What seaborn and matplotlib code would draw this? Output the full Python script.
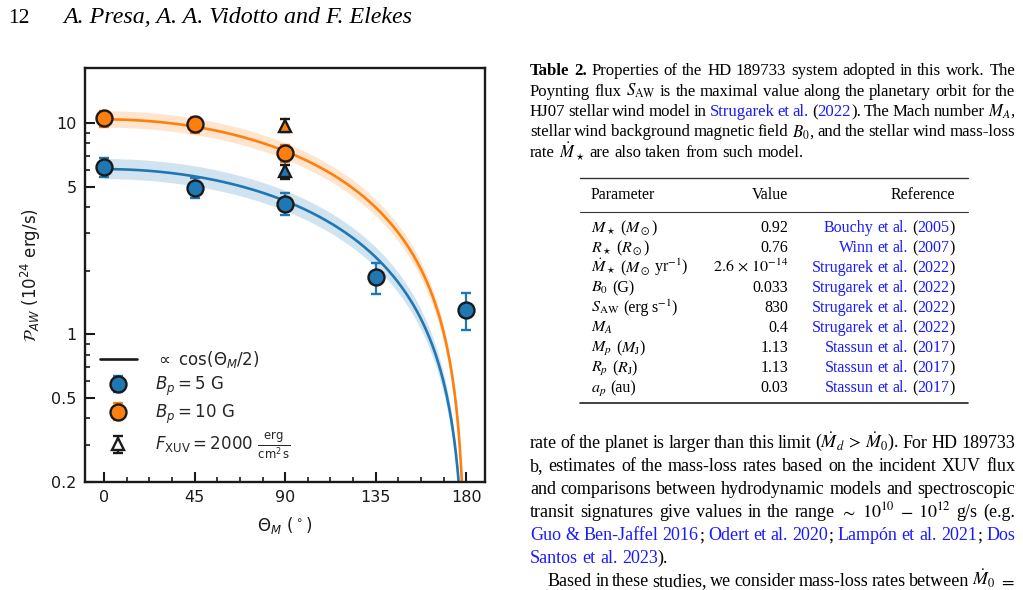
import numpy as np
import pandas as pd
import matplotlib
matplotlib.use("Agg")
import matplotlib.pyplot as plt
import seaborn as sns
from matplotlib.transforms import IdentityTransform
from matplotlib.lines import Line2D
from matplotlib.ticker import FixedLocator, NullFormatter, MultipleLocator, LogLocator

# ---------------- chart data ----------------
theta_bp5 = [0, 45, 90, 135, 180]
p_bp5 = [6.18, 4.93, 4.14, 1.86, 1.30]
p_bp5_lo = [5.54, 4.41, 3.65, 1.55, 1.05]
p_bp5_hi = [6.82, 5.48, 4.65, 2.17, 1.56]

theta_bp10 = [0, 45, 90]
p_bp10 = [10.5, 9.86, 7.2]
p_bp10_lo = [9.58, 9.0, 6.53]
p_bp10_hi = [11.4, 10.7, 7.9]

theta_xuv = [90]
p_xuv5 = [5.9]
p_xuv5_lo = [5.45]
p_xuv5_hi = [6.35]
p_xuv10 = [9.65]
p_xuv10_lo = [9.1]
p_xuv10_hi = [10.4]

fit_series = ["Bp5", "Bp10"]
fit_amp = [6.05, 10.4]
fit_amp_lo = [5.42, 9.5]
fit_amp_hi = [6.75, 11.35]

y_ticks = [0.2, 0.5, 1, 5, 10]
y_ticklabels = ["0.2", "0.5", "1", "5", "10"]
x_ticks = [0, 45, 90, 135, 180]

C_BLUE = "#1f77b4"
C_ORANGE = "#ff7f0e"
colors = [C_BLUE, C_ORANGE]

# ---------------- page text ----------------
heading_num = "12"
heading_auth = "A. Presa, A. A. Vidotto and F. Elekes"

caption_lines = [
    "*Table *2. Properties of the HD 189733 system adopted in this work. The",
    "Poynting flux $S_\\mathrm{AW}$ is the maximal value along the planetary orbit for the",
    "HJ07 stellar wind model in @Strugarek @et @al. (|@2022|). The Mach number $\\boldsymbol{M_A}$,",
    "stellar wind background magnetic field $\\boldsymbol{B_0}$, and the stellar wind mass-loss",
    "rate $\\dot{M}_\\star$ are also taken from such model.",
]

table_header = ["Parameter", "Value", "Reference"]
table_param = [
    "$\\boldsymbol{M_\\star}$ ($M_\\odot$)",
    "$\\boldsymbol{R_\\star}$ ($R_\\odot$)",
    "$\\boldsymbol{\\dot{M}_\\star}$ ($M_\\odot$ yr$^{-1}$)",
    "$\\boldsymbol{B_0}$ (G)",
    "$S_\\mathrm{AW}$ (erg|$\\,$|s$^{-1}$)",
    "$\\boldsymbol{M_A}$",
    "$\\boldsymbol{M_p}$ ($M_\\mathrm{J}$)",
    "$\\boldsymbol{R_p}$ ($R_\\mathrm{J}$)",
    "$\\boldsymbol{a_p}$ (au)",
]
table_value = ["0.92", "0.76", "$2.6\\,\\times\\,10^{-14}$", "0.033", "830", "0.4", "1.13", "1.13", "0.03"]
table_ref = [
    "@Bouchy @et @al. (|@2005|)",
    "@Winn @et @al. (|@2007|)",
    "@Strugarek @et @al. (|@2022|)",
    "@Strugarek @et @al. (|@2022|)",
    "@Strugarek @et @al. (|@2022|)",
    "@Strugarek @et @al. (|@2022|)",
    "@Stassun @et @al. (|@2017|)",
    "@Stassun @et @al. (|@2017|)",
    "@Stassun @et @al. (|@2017|)",
]

body_lines = [
    "rate of the planet is larger than this limit ($\\dot{M}_d\\,>\\,\\dot{M}_0$). For HD 189733",
    "b, estimates of the mass-loss rates based on the incident XUV flux",
    "and comparisons between hydrodynamic models and spectroscopic",
    "transit signatures give values in the range $\\sim$ $10^{10}$ $-$ $10^{12}$ g/s (e.g.",
    "@Guo @& @Ben-Jaffel @2016|; @Odert @et @al. @2020|; @Lampón @et @al. @2021|; @Dos",
    "@Santos @et @al. @2023|).",
    "Based in these studies, we consider mass-loss rates between $\\dot{M}_0$ $=$",
]

# ---------------- figure ----------------
sns.set_theme(style="ticks")
plt.rcParams["font.family"] = ["DejaVu Sans"]
plt.rcParams["mathtext.fontset"] = "dejavusans"

W, H = 1023, 590
fig = plt.figure(figsize=(W / 100, H / 100), dpi=100)
fig.patch.set_facecolor("white")
ax = fig.add_axes([85 / W, 1 - 482 / H, 400 / W, 414 / H])
ax.set_facecolor("white")

theta = np.linspace(0, 179.95, 1200)
rows = []
for name, amp in zip(fit_series, fit_amp):
    for t in theta:
        rows.append({"theta": t, "P": amp * np.cos(np.radians(t) / 2), "series": name})
df_fit = pd.DataFrame(rows)

for amp_lo, amp_hi, col in zip(fit_amp_lo, fit_amp_hi, colors):
    ax.fill_between(theta, amp_lo * np.cos(np.radians(theta) / 2),
                    amp_hi * np.cos(np.radians(theta) / 2),
                    color=col, alpha=0.2, lw=0, zorder=1)
sns.lineplot(data=df_fit, x="theta", y="P", hue="series", palette=colors,
             linewidth=1.9, legend=False, ax=ax, zorder=2, estimator=None)

def yerr(v, lo, hi):
    v = np.asarray(v); return [v - np.asarray(lo), np.asarray(hi) - v]

eb_kw = dict(ms=11.5, mew=1.7, mec="k", elinewidth=1.6, capsize=3.5, capthick=1.6)
eb5 = ax.errorbar(theta_bp5, p_bp5, yerr=yerr(p_bp5, p_bp5_lo, p_bp5_hi), fmt="o",
                  mfc=C_BLUE, ecolor=C_BLUE, zorder=5, **eb_kw)
eb10 = ax.errorbar(theta_bp10, p_bp10, yerr=yerr(p_bp10, p_bp10_lo, p_bp10_hi), fmt="o",
                   mfc=C_ORANGE, ecolor=C_ORANGE, zorder=5, **eb_kw)
tri_kw = dict(ms=9, mew=1.7, mec="k", ecolor="k", elinewidth=1.6, capsize=3.5, capthick=1.6)
ax.errorbar(theta_xuv, p_xuv5, yerr=yerr(p_xuv5, p_xuv5_lo, p_xuv5_hi), fmt="^",
            mfc=C_BLUE, zorder=6, **tri_kw)
ax.errorbar(theta_xuv, p_xuv10, yerr=yerr(p_xuv10, p_xuv10_lo, p_xuv10_hi), fmt="^",
            mfc=C_ORANGE, zorder=6, **tri_kw)
eb_tri = ax.errorbar([np.nan], [np.nan], yerr=[[1], [1]], fmt="^", mfc="white", **tri_kw)
line_proxy = Line2D([], [], color="k", lw=1.9)

ax.set_yscale("log")
ax.set_ylim(0.2, 18.2)
ax.set_xlim(-9.5, 189.3)
ax.yaxis.set_major_locator(FixedLocator(y_ticks))
ax.set_yticklabels(y_ticklabels)
ax.yaxis.set_minor_locator(LogLocator(base=10, subs=np.arange(2, 10)))
ax.yaxis.set_minor_formatter(NullFormatter())
ax.set_xticks(x_ticks)
ax.xaxis.set_minor_locator(MultipleLocator(11.25))
ax.tick_params(which="both", direction="in", top=False, right=False, colors="k")
ax.tick_params(which="major", length=7.5, width=1.5, labelsize=11.5, pad=6)
ax.tick_params(which="minor", length=3.8, width=1.2)
for s in ax.spines.values():
    s.set_visible(True)
    s.set_linewidth(1.7)
    s.set_color("k")
ax.grid(False)

ax.set_xlabel(r"$\Theta_M$ ($^\circ$)", fontsize=12, labelpad=7, color="k")
ax.set_ylabel(r"$\mathcal{P}_{AW}$ (10$^{24}$ erg/s)", fontsize=12, labelpad=6, color="k")

leg = ax.legend([line_proxy, eb5, eb10, eb_tri],
                [r"$\propto$ cos($\Theta_M$/2)", r"$B_p = 5$ G", r"$B_p = 10$ G",
                 r"$F_\mathrm{XUV} = 2000\ \frac{\mathrm{erg}}{\mathrm{cm}^2\,\mathrm{s}}$"],
                loc="lower left", bbox_to_anchor=(0.0, 0.014), frameon=False,
                fontsize=12, handlelength=2.2, handletextpad=1.1, labelspacing=0.28,
                borderaxespad=0.5)

# ---------------- page text drawing ----------------
renderer = fig.canvas.get_renderer()
SERIF = "Liberation Serif"
LINK = "#1a1aff"

def parse(line):
    words = []
    for w in line.split(" "):
        pieces = []
        for p in w.split("|"):
            color, weight = "black", "normal"
            while p and p[0] in "@*":
                if p[0] == "@":
                    color = LINK
                else:
                    weight = "bold"
                p = p[1:]
            pieces.append((p, color, weight))
        words.append(pieces)
    return words

def make(s, size, color="black", weight="normal", style="normal"):
    t = fig.text(0, 0, s, transform=IdentityTransform(), fontsize=size, family=SERIF,
                 color=color, weight=weight, style=style, math_fontfamily="stix",
                 va="baseline", ha="left")
    return t, t.get_window_extent(renderer).width

def space_w(size):
    t1, a = make("a a", size); t2, b = make("aa", size)
    t1.remove(); t2.remove()
    return a - b

def natural_width(line, size):
    tot = 0
    words = parse(line)
    for pieces in words:
        for (s, c, wt) in pieces:
            t, w = make(s, size, c, wt)
            tot += w
            t.remove()
    return tot + space_w(size) * (len(words) - 1)

def para_size(lines, x0s, x1, flags, s0=10.0, slack=1.03):
    ratios = [(x1 - x0) / natural_width(ln, s0)
              for ln, x0, f in zip(lines, x0s, flags) if f]
    return s0 * min(ratios) * slack

def draw_line(line, x0, x1, y, size, justify=True, align="left"):
    words = parse(line)
    arts, widths = [], []
    for pieces in words:
        wa, ww = [], 0
        for (s, c, wt) in pieces:
            t, w = make(s, size, c, wt)
            wa.append((t, w)); ww += w
        arts.append(wa); widths.append(ww)
    sp = space_w(size)
    n = len(words)
    gap = sp
    if justify and n > 1:
        gap = max((x1 - x0 - sum(widths)) / (n - 1), 0.55 * sp)
    total = sum(widths) + gap * (n - 1)
    x = x0 if align == "left" else x1 - total
    for wa in arts:
        for t, w in wa:
            t.set_position((x, H - y)); x += w
        x += gap

# heading
draw_line(heading_num, 8, 40, 23, 15.5, justify=False)
t, w = make(heading_auth, 10, style="italic")
t.set_fontsize(10 * 350 / w)
t.set_position((63, H - 23))

# caption
cap_base = [75, 95.5, 116, 136.5, 157]
cap_x0 = [530] * 5
cap_just = [True, True, True, True, False]
cap_size = para_size(caption_lines, cap_x0, 1015, cap_just)
for ln, yb, x0, jj in zip(caption_lines, cap_base, cap_x0, cap_just):
    draw_line(ln, x0, 1015, yb, cap_size, justify=jj)

# table
TS = 11.5
for yy, lw in [(178, 1.0), (212, 0.8), (403, 1.3)]:
    fig.add_artist(Line2D([580, 968], [H - yy, H - yy], transform=IdentityTransform(),
                          color="#333333", lw=lw))
draw_line(table_header[0], 591, 700, 199, TS, justify=False)
draw_line(table_header[1], 700, 788, 199, TS, justify=False, align="right")
draw_line(table_header[2], 800, 955, 199, TS, justify=False, align="right")
for i in range(len(table_param)):
    yb = 232 + 20 * i
    draw_line(table_param[i], 591, 700, yb, TS, justify=False)
    draw_line(table_value[i], 700, 788, yb, TS, justify=False, align="right")
    draw_line(table_ref[i], 800, 955, yb, TS, justify=False, align="right")

# body text
body_base = [448, 471, 494, 517, 540, 563, 586]
body_x0 = [530, 530, 530, 530, 530, 530, 548]
body_just = [True, True, True, True, True, False, True]
body_size = para_size(body_lines, body_x0, 1015, body_just)
for ln, yb, x0, jj in zip(body_lines, body_base, body_x0, body_just):
    draw_line(ln, x0, 1015, yb, body_size, justify=jj)

fig.savefig("out.png", dpi=100, facecolor="white")
